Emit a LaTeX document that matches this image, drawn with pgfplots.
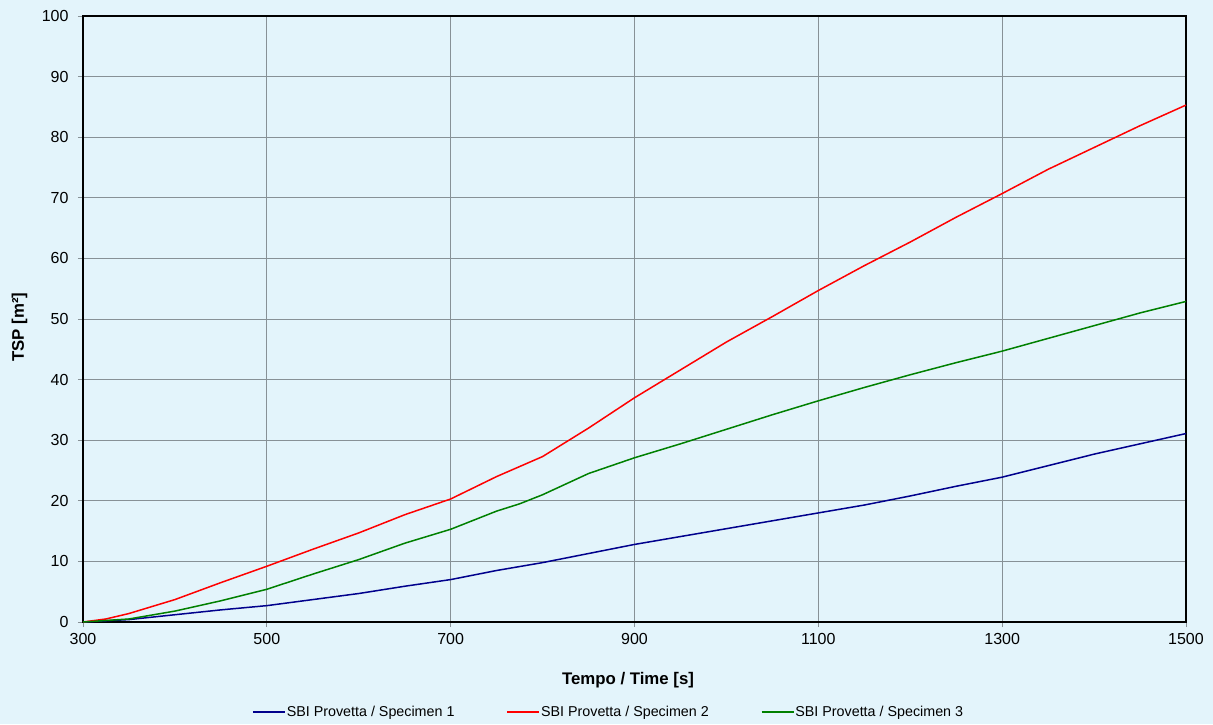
\documentclass[border=0pt]{standalone}
\usepackage{fontspec}
\setmainfont{Liberation Sans}
\usepackage{pgfplots}
\pgfplotsset{compat=1.18}
\usetikzlibrary{backgrounds}
\definecolor{bg}{RGB}{227,244,251}
\definecolor{gridc}{RGB}{135,145,150}
\definecolor{s1}{RGB}{0,0,140}
\definecolor{s2}{RGB}{255,0,0}
\definecolor{s3}{RGB}{0,128,0}
\begin{document}
\begin{tikzpicture}
\begin{axis}[
  at={(0pt,0pt)}, anchor=south west,
  width=1103pt, height=606pt, scale only axis,
  xmin=300, xmax=1500, ymin=0, ymax=100,
  xtick={300,500,...,1500}, ytick={0,10,...,100},
  grid=major, major grid style={gridc, line width=0.9pt},
  axis line style={black, line width=1.6pt},
  tick align=outside, major tick length=5pt,
  tick style={gridc, line width=0.9pt},
  xtick pos=bottom, ytick pos=left,
  /pgf/number format/assume math mode=true,
  /pgf/number format/1000 sep={},
  ticklabel style={font=\fontsize{16}{19}\selectfont},
  xticklabel style={yshift=-3pt},
  yticklabel style={xshift=-6pt},
  xlabel={\textbf{Tempo / Time [s]}},
  ylabel={\textbf{TSP [m²]}},
  label style={font=\fontsize{16.8}{19}\selectfont},
  xlabel style={at={(axis description cs:0.4941,-0.0957)}, anchor=center},
  ylabel style={at={(axis description cs:-0.0576,0.4868)}, anchor=center},
  legend columns=3,
  legend image code/.code={\draw[#1, line width=1.6pt] (0,0) -- (32pt,0);},
  legend style={draw=none, fill=none, inner sep=0pt,
    at={(axis description cs:0.1532,-0.1485)}, anchor=west,
    font=\fontsize{14.3}{16}\selectfont,
    nodes={inner sep=1pt},
    /tikz/every even column/.append style={column sep=51pt}},
]
\addplot[s1, line width=1.5pt] coordinates {
(300,0) (350,0.4) (400,1.2) (450,2.0) (500,2.7) (550,3.7) (600,4.7) (650,5.9)
(700,7.0) (750,8.5) (800,9.8) (850,11.3) (900,12.8) (950,14.1) (1000,15.4)
(1050,16.7) (1100,18.0) (1150,19.3) (1200,20.8) (1250,22.4) (1300,23.9)
(1350,25.8) (1400,27.7) (1450,29.4) (1500,31.1)};
\addlegendentry{SBI Provetta / Specimen 1}
\addplot[s2, line width=1.5pt] coordinates {
(300,0) (325,0.5) (350,1.4) (400,3.7) (450,6.5) (500,9.2) (550,12.0) (600,14.7)
(650,17.7) (700,20.3) (750,24.0) (800,27.3) (850,32.0) (900,37.0) (950,41.6)
(1000,46.2) (1050,50.4) (1100,54.7) (1150,58.8) (1200,62.7) (1250,66.8)
(1300,70.7) (1350,74.7) (1400,78.3) (1450,81.9) (1500,85.3)};
\addlegendentry{SBI Provetta / Specimen 2}
\addplot[s3, line width=1.5pt] coordinates {
(300,0) (350,0.5) (400,1.8) (450,3.5) (500,5.4) (550,7.9) (600,10.3) (650,13.0)
(700,15.3) (750,18.3) (775,19.5) (800,21.0) (850,24.5) (900,27.1) (950,29.4)
(1000,31.8) (1050,34.2) (1100,36.5) (1150,38.7) (1200,40.8) (1250,42.8)
(1300,44.7) (1350,46.8) (1400,48.9) (1450,51.0) (1500,52.9)};
\addlegendentry{SBI Provetta / Specimen 3}
\end{axis}
\begin{scope}[on background layer]
\fill[bg] (-83pt,-102pt) rectangle (1130pt,622pt);
\end{scope}
\end{tikzpicture}
\end{document}
